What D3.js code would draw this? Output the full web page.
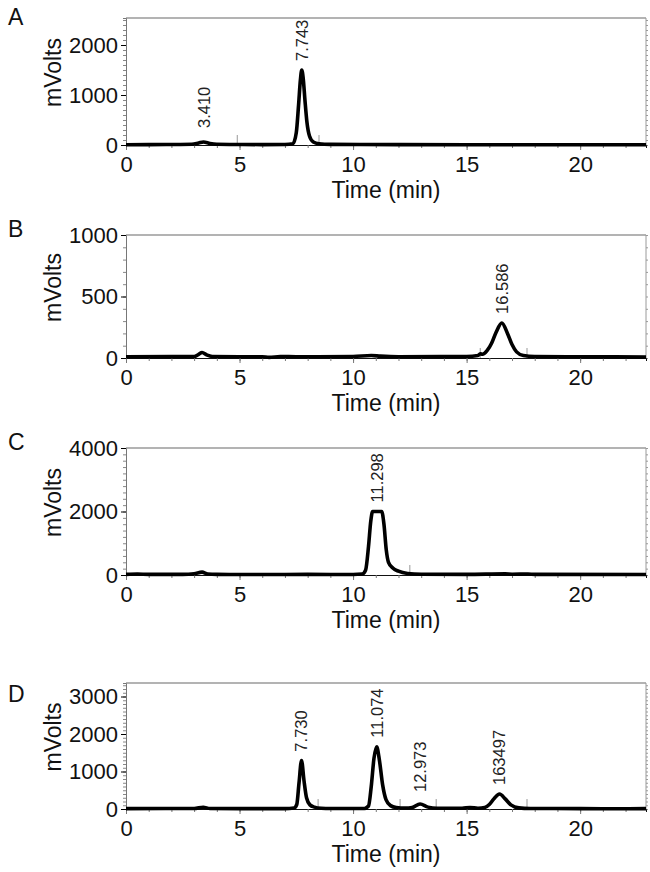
<!DOCTYPE html>
<html>
<head>
<meta charset="utf-8">
<script src="https://cdn.jsdelivr.net/npm/d3@7"></script>
<style>
  body { margin: 0; background: #fff; }
  text { font-family: "Liberation Sans", Arial, sans-serif; }
</style>
</head>
<body>
<svg width="650" height="872"></svg>
<script>
// chromatogram traces, [time (min), mVolts]
const traceA = [[0,5],[1,8],[2,10],[2.9,15],[3.2,40],[3.41,60],[3.7,30],[4.0,15],[5,10],[6,8],[7,10],[7.35,25],[7.5,250],
  [7.6,800],[7.68,1300],[7.74,1500],[7.8,1350],[7.88,900],[7.97,450],[8.08,180],[8.25,60],[8.5,25],[9,12],[12,8],[15,6],[20,5],[22.9,5]];
const traceB = [[0,10],[3.0,12],[3.2,30],[3.35,45],[3.55,25],[3.8,12],[5,10],[6,10],[6.3,5],[6.8,12],[7.5,10],[10,12],[10.8,20],
  [11.2,15],[12,10],[15,12],[15.5,20],[15.6,35],[15.7,30],[15.9,60],[16.1,120],[16.3,210],[16.55,285],[16.8,200],[17.0,110],
  [17.2,50],[17.5,20],[18,12],[20,10],[22.9,8]];
const traceC = [[0,20],[0.5,30],[1,20],[2.5,20],[3.0,40],[3.35,90],[3.6,30],[4,20],[6,15],[8,20],[9,15],[10,15],[10.4,30],
  [10.55,150],[10.68,900],[10.78,1700],[10.86,2000],[11.26,2000],[11.36,1600],[11.46,800],[11.56,400],[11.75,220],[12.0,120],
  [12.4,50],[13,25],[15,20],[16.7,35],[17,25],[17.7,30],[18,20],[22.9,15]];
const traceD = [[0,10],[3.0,15],[3.4,45],[3.7,15],[5,10],[7,10],[7.4,25],[7.52,120],[7.62,700],[7.73,1290],[7.84,750],[7.95,300],
  [8.1,110],[8.3,50],[8.6,20],[9,12],[10.5,15],[10.68,80],[10.8,600],[10.92,1350],[11.04,1660],[11.16,1300],[11.3,650],
  [11.45,250],[11.65,90],[11.9,40],[12.3,25],[12.6,40],[12.95,135],[13.3,50],[13.7,20],[14.8,20],[15.15,40],[15.5,20],
  [15.8,40],[16.0,120],[16.2,270],[16.45,400],[16.7,270],[16.95,110],[17.3,30],[17.8,15],[20,10],[21,5],[22.9,10]];

// peak annotations
const peaksA = [{ t: 3.45, mV: 60, label: "3.410" }, { t: 7.74, mV: 1500, label: "7.743" }];
const peaksB = [{ t: 16.55, mV: 285, label: "16.586" }];
const peaksC = [{ t: 11.06, mV: 2000, label: "11.298" }];
const peaksD = [{ t: 7.73, mV: 1290, label: "7.730" }, { t: 11.04, mV: 1660, label: "11.074" },
  { t: 12.95, mV: 135, label: "12.973" }, { t: 16.45, mV: 400, label: "163497" }];

// integration event marks (min)
const marksA = [4.9, 8.5];
const marksB = [15.6, 17.66];
const marksC = [12.5];
const marksD = [8.46, 12.07, 13.66, 17.66];

const timeTicks = [0, 5, 10, 15, 20];
const timeMax = 22.9;
const yMax = { A: 2540, B: 1000, C: 4000, D: 3360 };
const yTicks = { A: [0, 1000, 2000], B: [0, 500, 1000], C: [0, 2000, 4000], D: [0, 1000, 2000, 3000] };
const yMinorStep = { A: 100, B: 100, C: 200, D: 100 };

const panels = [
  { key: "A", top: 18, bottom: 145, letterY: 25, trace: traceA, peaks: peaksA, marks: marksA },
  { key: "B", top: 235, bottom: 358, letterY: 237, trace: traceB, peaks: peaksB, marks: marksB },
  { key: "C", top: 448, bottom: 575, letterY: 450, trace: traceC, peaks: peaksC, marks: marksC },
  { key: "D", top: 683, bottom: 809, letterY: 702, trace: traceD, peaks: peaksD, marks: marksD }
];

const left = 126, right = 646;
const svg = d3.select("svg");
const font = "'Liberation Sans', Arial, sans-serif";

const x = d3.scaleLinear().domain([0, timeMax]).range([left, right]);

panels.forEach(p => {
  const y = d3.scaleLinear().domain([0, yMax[p.key]]).range([p.bottom, p.top]);
  const g = svg.append("g");

  // frame: top and right in grey
  g.append("line").attr("x1", left).attr("x2", right).attr("y1", p.top).attr("y2", p.top)
    .attr("stroke", "#9a9a9a").attr("stroke-width", 1.5);
  g.append("line").attr("x1", right).attr("x2", right).attr("y1", p.top).attr("y2", p.bottom)
    .attr("stroke", "#9a9a9a").attr("stroke-width", 1);

  // minor y ticks on both sides
  const minor = d3.range(0, yMax[p.key] + 1, yMinorStep[p.key]);
  g.append("g").attr("transform", `translate(${left},0)`)
    .call(d3.axisLeft(y).tickValues(minor).tickSize(3).tickFormat(""))
    .call(a => a.select(".domain").attr("stroke", "#777"))
    .call(a => a.selectAll(".tick line").attr("stroke", "#888"));
  g.append("g").attr("transform", `translate(${right},0)`)
    .call(d3.axisRight(y).tickValues(minor).tickSize(2).tickFormat(""))
    .call(a => a.select(".domain").remove())
    .call(a => a.selectAll(".tick line").attr("stroke", "#999"));

  // major y axis
  g.append("g").attr("transform", `translate(${left},0)`)
    .call(d3.axisLeft(y).tickValues(yTicks[p.key]).tickFormat(d3.format("d")).tickSize(5).tickPadding(3))
    .call(a => a.select(".domain").remove())
    .call(a => a.selectAll("text").attr("font-size", 22).attr("fill", "#111").attr("font-family", font));

  // x axis, minor then major ticks
  g.append("g").attr("transform", `translate(0,${p.bottom})`)
    .call(d3.axisBottom(x).tickValues(d3.range(1, 23)).tickSize(3).tickFormat(""))
    .call(a => a.select(".domain").attr("stroke", "#111"))
    .call(a => a.selectAll(".tick line").attr("stroke", "#777"));
  g.append("g").attr("transform", `translate(0,${p.bottom})`)
    .call(d3.axisBottom(x).tickValues(timeTicks).tickSize(5).tickPadding(6))
    .call(a => a.select(".domain").remove())
    .call(a => a.selectAll(".tick line").attr("stroke", "#777"))
    .call(a => a.selectAll("text").attr("font-size", 22).attr("fill", "#111").attr("font-family", font));

  // integration marks
  g.selectAll("line.mark").data(p.marks).join("line").attr("class", "mark")
    .attr("x1", d => x(d)).attr("x2", d => x(d))
    .attr("y1", p.bottom).attr("y2", p.bottom - 10)
    .attr("stroke", "#999").attr("stroke-width", 1);

  // trace
  const line = d3.line().x(d => x(d[0])).y(d => y(d[1])).curve(d3.curveMonotoneX);
  g.append("path").datum(p.trace).attr("d", line)
    .attr("fill", "none").attr("stroke", "#000").attr("stroke-width", 3.6)
    .attr("stroke-linejoin", "round");

  // peak labels, kept clear of the baseline
  g.selectAll("text.peak").data(p.peaks).join("text").attr("class", "peak")
    .attr("transform", d => `translate(${x(d.t)},${Math.min(y(d.mV) - 9, p.bottom - 17)}) rotate(-90)`)
    .attr("dy", "0.36em")
    .attr("font-size", 16.5).attr("fill", "#222")
    .text(d => d.label);

  // titles
  g.append("text").attr("x", (left + right) / 2).attr("y", p.bottom + 53)
    .attr("text-anchor", "middle").attr("font-size", 23).attr("fill", "#111")
    .text("Time (min)");
  g.append("text")
    .attr("transform", `translate(61,${(p.top + p.bottom) / 2 - 9}) rotate(-90)`)
    .attr("text-anchor", "middle").attr("font-size", 23).attr("fill", "#111")
    .text("mVolts");
  g.append("text").attr("x", 8).attr("y", p.letterY)
    .attr("font-size", 23).attr("fill", "#111").text(p.key);
});
</script>
</body>
</html>
